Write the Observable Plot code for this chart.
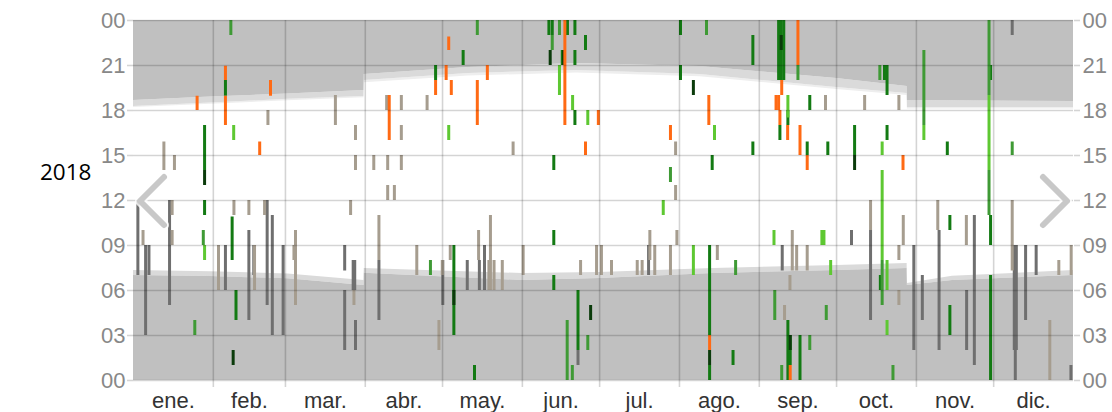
<!DOCTYPE html>
<html><head><meta charset="utf-8">
<script src="https://cdn.jsdelivr.net/npm/d3@7"></script>
<script src="https://cdn.jsdelivr.net/npm/@observablehq/plot@0.6"></script>
<style>
body{margin:0;background:#fff;}
#wrap{position:relative;width:1112px;height:412px;overflow:hidden;}
#overlay{position:absolute;left:0;top:0;pointer-events:none;}
</style></head><body>
<div id="wrap"></div>
<script>
// ---- axis labels ----
const yearLabel = "2018";
const monthNames = ["ene.","feb.","mar.","abr.","may.","jun.","jul.","ago.","sep.","oct.","nov.","dic."];
const monthStarts = [0,31,59,90,120,151,181,212,243,273,304,334,365];
const hourTicks = [0,3,6,9,12,15,18,21,24];

// ---- evening night / twilight boundary (hours) ----
const eveDays  = [0, 30, 60, 89.5, 89.6, 130, 172, 220, 273, 300.4, 300.5, 365];
const eveNight = [18.67, 18.9, 19.1, 19.33, 20.4, 20.87, 21.13, 20.93, 20.13, 19.6, 18.67, 18.6];
const eveTwi   = [18.27, 18.5, 18.75, 18.93, 20.0, 20.47, 20.67, 20.4, 19.53, 19.13, 18.2, 18.2];
const eveHaze  = [18.2, 18.42, 18.65, 18.85, 19.85, 20.3, 20.5, 20.25, 19.4, 19.0, 18.1, 18.1];

// ---- morning night / twilight boundary (hours) ----
const mornDays  = [0, 30, 60, 89.5, 89.6, 151, 181, 225, 273, 300.4, 300.5, 318, 365];
const mornNight = [7.0, 6.93, 6.78, 6.33, 7.15, 6.67, 6.8, 7.13, 7.33, 7.47, 6.33, 6.67, 7.0];
const mornTwi   = [7.33, 7.25, 7.1, 6.67, 7.47, 7.13, 7.2, 7.47, 7.67, 7.8, 6.47, 6.95, 7.33];

// ---- activity segments: [day, from hour, to hour] ----
const grayBars = [
  [1.7,12,7],[4.7,9,3],[6,9,7],[14,12,5],[35.7,9,6],[44.8,10,4],[46.7,9,7],[51.9,12,5],[53.9,11,3],
  [58.1,9,3],[82,9,7.3],[82,6,2],[85.3,8,6],[85.9,8,6],[86.2,4,2],[95.3,8,4],[120.1,8,5],[129.6,8,6],
  [134.3,8,6],[136.3,9,6],[172.6,2,1],[200,9,7],[251.9,9,7.3],[278.8,10,9],[286.2,10,4],[303,9,2],
  [306.3,7,4],[312.8,10,2],[323.5,6,2],[326.5,11,1],[341.2,24,23],[342,9,2],[342.8,9,2],[342.4,2,0],
  [346.4,9,4],[350.5,9,7],[364,1,0]
];
const taupeBars = [
  [3.7,10,9],[11.8,15.9,14],[15.9,15,14],[15,12,11],[15,10,9],[33,9,6],[39,12,11],[44.8,12,11],[47,9,6],
  [50.9,12,11],[52.2,18,17],[62.9,10,5],[62.3,9,8],[78.4,19,17],[84.3,12,11],[85.6,6,5],[86.2,17,16],
  [86.2,15,14],[93.3,15,14],[95.3,11,8],[98.3,19,18],[98.7,15,14],[98.7,13,12],[101.3,13,12],[104,19,18],
  [104,17,16],[104,15,14],[110,9,7],[114,19,18],[118.6,4,2],[119.9,8,7],[123,9,8],[134,10,8],[138,8,6],
  [138.6,11,6],[140,8,6],[143.2,8,6],[147.4,15.9,15],[151.3,9,7],[173.6,8,7],[179.8,9,7],[181.7,9,7],
  [185.6,8,7],[195.6,8,7],[197.5,8,7],[200.5,10,8],[202.4,9,7],[208.5,9,7],[210.5,15.9,15],[210.5,13,12],
  [211,10,9],[226.7,9,8],[252.8,5,4],[254.9,7,6],[255.8,10,7.3],[257.5,9,7.3],[261.6,9,7.3],[268.7,19,18],
  [283.9,19,18],[286.2,12,10],[297.2,19,18],[297.2,9,8],[297.2,6,5],[298.9,11,9],[312.3,12,10],
  [323.4,11,9],[341.2,12,7.3],[355.8,4,0],[359.3,8,7],[364.1,9,7]
];
const darkGreenBars = [
  [27.6,17,14],[27.6,12,11],[35.7,20,18.95],[38.3,10.9,8],[39.8,6,4],[117.3,21,20],[124.4,9,3],[128,22,21],
  [132.4,1,0],[161.3,24,23],[162.6,24,23],[163.2,15,14],[163.2,10,9],[163.2,7,6],[166.5,22,21],[168.5,24,23],
  [171.4,24,23],[171.4,22,21],[171.4,18,17],[172.6,6,2],[175.5,23,22],[212.4,24,23],[212.4,21,20],
  [223.7,9,3],[223.7,1,0],[224.7,15,14],[232.8,2,1],[240.5,23,21],[240.5,15.9,15],[250.5,24,20],
  [251.5,24,20],[252.5,24,20],[251,17,16],[254.1,18,17],[254.1,4,0],[255,3,1],[258.8,3,0],[261.6,15.9,15],
  [262.6,19,18],[269.6,15.9,15],[280,17,15],[290,7,6],[291.6,21,20],[292.6,21,19],[292.6,17,16],
  [316,15.9,15],[317,11,10],[317,5,3],[332.8,21,20],[332.8,11,9],[332.8,7,0]
];
const midGreenBars = [
  [23.8,4,3],[27.1,10,9],[37.8,24,23],[115.3,8,7],[133.5,24,23],[162.6,23,22],[165.4,24,23],[168.4,4,0],
  [170.4,1,0],[176.4,3,2],[208.5,14.2,13.2],[222.5,24,23],[233.8,8,7],[249,6,4],[251.7,1,0],[258,21,20],
  [262.6,3,2],[269,5,4],[289.8,21,20],[290.7,8,5],[294.9,1,0],[306.9,22,17],[332.2,24,19],[332.2,14,11],
  [341.2,15.9,15]
];
const lightGreenBars = [
  [27.6,9,8],[38.9,17,16],[122.4,17,16],[165.4,21,19],[170.5,19,18],[176.4,18,17],[205.7,12,11],
  [217.4,9,7],[225.6,17,16],[248.7,10,9],[254.1,19,17.5],[267.3,10,9],[268.1,10,9],[270.7,8,7],
  [290.7,15.9,15],[290.7,14,8],[292.6,8,6],[292.6,4,3],[306.9,17,16],[332.2,19,14]
];
const deepGreenBars = [
  [27.6,14,13],[38.7,2,1],[124.4,6,5],[161.8,22,21],[167,22,21],[177.5,5,4],[217.4,20,19],[223.7,2,1],
  [251.5,23,22],[255,3,2],[280,15,14]
];
const orangeBars = [
  [24.7,18.95,18],[35.7,20.95,20],[35.7,18.95,17],[49,15.9,15],[53.2,20,18.95],[99.3,19,16],[117.3,20,19],
  [121.4,21,20],[122.4,22.9,22],[123.4,20,19],[133.5,20,17],[137.4,21,20],[167.5,24,17],[175.5,15.9,15],
  [180.5,18,17],[208.5,17,16],[223.4,19,17],[223.7,3,2],[251.7,20,19],[249.5,19,18],[250.5,19,18],
  [251,18,17],[254,17,16],[255,1,0],[258,24,21],[258.8,17,15],[261.6,15,14],[298.8,15,14]
];

const seriesTypes  = ["gray","taupe","darkGreen","midGreen","lightGreen","deepGreen","orange"];
const seriesColors = ["#6f6f6f","#a69d8f","#137a13","#3f9a35","#5ec832","#0b3b0b","#ff6a14"];
const seriesData   = [grayBars,taupeBars,darkGreenBars,midGreenBars,lightGreenBars,deepGreenBars,orangeBars];

// ---- build tables ----
const evening = eveDays.map((d,i)=>({day:d, night:eveNight[i], twi:eveTwi[i], haze:eveHaze[i]}));
const morning = mornDays.map((d,i)=>({day:d, night:mornNight[i], twi:mornTwi[i]}));
const bars = seriesData.flatMap((arr,k)=>arr.map(([day,a,b])=>({day, y1:a, y2:b, type:seriesTypes[k]})));
const monthBounds = monthStarts.slice(1,-1);
const monthMids = monthStarts.slice(0,-1).map((s,i)=>(s+monthStarts[i+1])/2);
const pad = h => String(h%24).padStart(2,"0");

const gridStyle = {stroke:"#000", strokeOpacity:0.17, strokeWidth:1.6};

const chart = Plot.plot({
  width:1112, height:412,
  marginLeft:133, marginRight:39, marginTop:20, marginBottom:32,
  style:{fontFamily:"'Liberation Sans', Arial, sans-serif", background:"transparent", overflow:"visible"},
  x:{domain:[0,365], axis:null, label:null},
  y:{domain:[0,24], axis:null, label:null},
  color:{domain:seriesTypes, range:seriesColors},
  marks:[
    Plot.areaY(evening, {x:"day", y1:"haze", y2:"twi", fill:"#eeeeee"}),
    Plot.areaY(evening, {x:"day", y1:"twi", y2:"night", fill:"#dadada"}),
    Plot.areaY(evening, {x:"day", y1:"night", y2:24, fill:"#c0c0c0"}),
    Plot.areaY(morning, {x:"day", y1:"night", y2:"twi", fill:"#dadada"}),
    Plot.areaY(morning, {x:"day", y1:0, y2:"night", fill:"#c0c0c0"}),
    Plot.ruleX(bars, {x:"day", y1:"y1", y2:"y2", stroke:"type", strokeWidth:3}),
    Plot.ruleY(hourTicks, gridStyle),
    Plot.ruleX(monthBounds, gridStyle),
    Plot.axisY({anchor:"left", ticks:hourTicks, tickFormat:pad, tickSize:6, tickPadding:2, label:null,
      fontSize:22, fill:"#888", ...gridStyle}),
    Plot.axisY({anchor:"right", ticks:hourTicks, tickFormat:pad, tickSize:6, tickPadding:3, label:null,
      fontSize:22, fill:"#888", ...gridStyle}),
    Plot.axisX({ticks:monthBounds, tickSize:7, tickFormat:()=>"", label:null, ...gridStyle}),
    Plot.axisX({ticks:monthMids, tickSize:0, tickPadding:12, fontSize:22, fill:"#333", label:null,
      tickFormat:d=>monthNames[monthMids.indexOf(d)]})
  ]
});
const wrap = document.getElementById("wrap");
wrap.appendChild(chart);

// overlay: year label and navigation chevrons
const ns = "http://www.w3.org/2000/svg";
const ov = document.createElementNS(ns,"svg");
ov.setAttribute("id","overlay"); ov.setAttribute("width",1112); ov.setAttribute("height",412);
ov.innerHTML = `
  <text x="40" y="180" font-family="'Open Sans', sans-serif" font-size="22.5" fill="#000">${yearLabel}</text>
  <g fill="none" stroke-linecap="round" stroke-linejoin="round">
    <polyline points="164,177 140,201 164,225" stroke="#fff" stroke-opacity="0.8" stroke-width="10"/>
    <polyline points="164,177 140,201 164,225" stroke="#c8c8c8" stroke-width="6"/>
    <polyline points="1043,177 1067,201 1043,225" stroke="#fff" stroke-opacity="0.8" stroke-width="10"/>
    <polyline points="1043,177 1067,201 1043,225" stroke="#c8c8c8" stroke-width="6"/>
  </g>`;
wrap.appendChild(ov);
</script>
</body></html>
